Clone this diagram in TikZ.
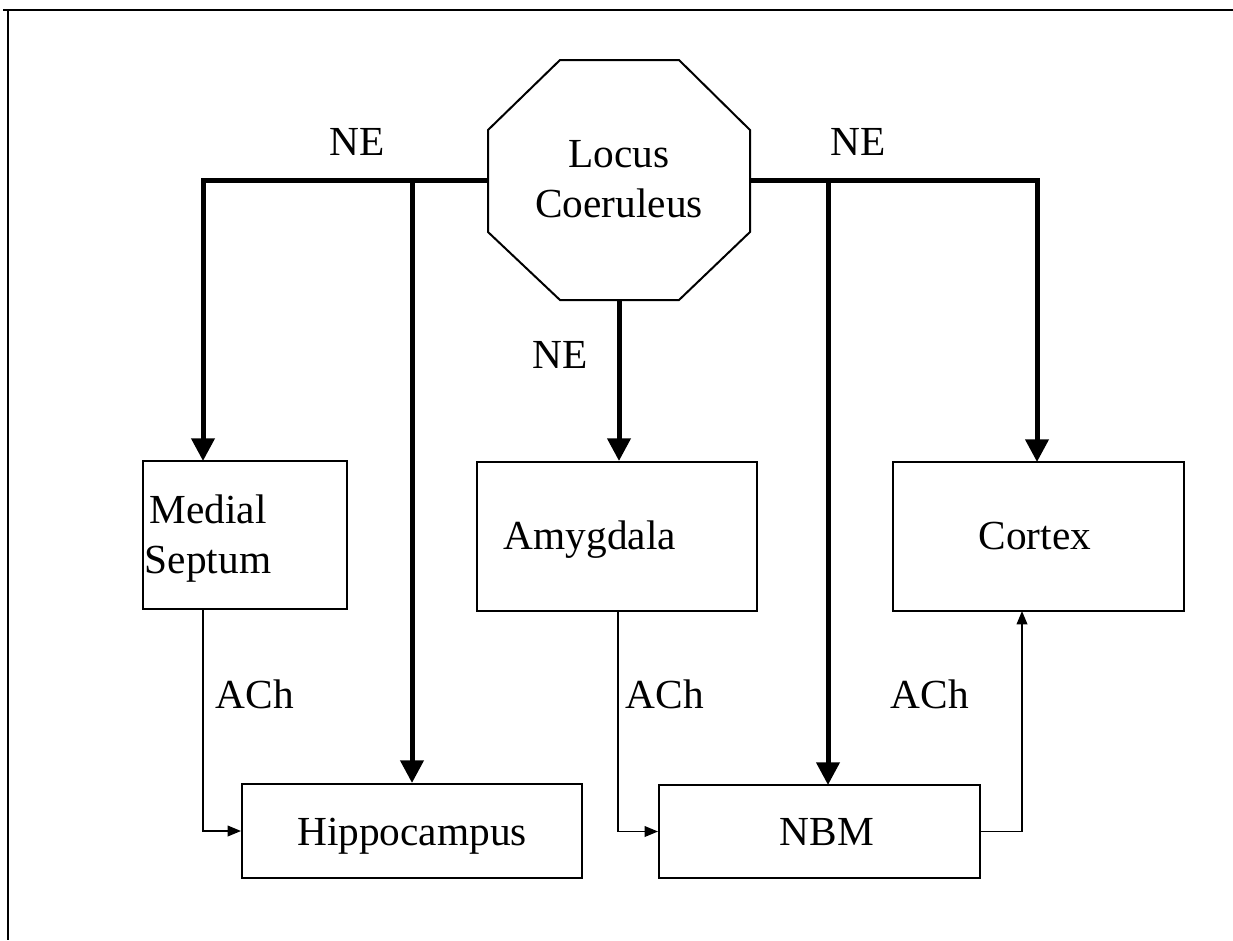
\documentclass[tikz,border=0pt]{standalone}
\usepackage{fontspec}
\setmainfont{Liberation Serif}
\usetikzlibrary{arrows.meta,fit}
\begin{document}
\begin{tikzpicture}[x=0.75pt,y=-0.75pt,
 box/.style={draw, line width=1.5pt, inner sep=0pt},
 lbl/.style={font=\fontsize{31}{37.5}\selectfont, align=center, inner sep=0pt},
 nearrow/.style={line width=3.75pt, -{Triangle[width=17pt,length=17pt]}},
 acharrow/.style={line width=1.1pt, -{Triangle[width=8pt,length=10pt]}}]
\useasboundingbox (0,0) rectangle (1233,940);
% frame
\draw[line width=1.5pt] (3,10) -- (1233,10);
\draw[line width=1.5pt] (8,10) -- (8,940);
% octagon
\draw[line width=1.5pt] (560,60) -- (679,60) -- (750,130) -- (750,232) -- (679,300) -- (560,300) -- (488,232) -- (488,130) -- cycle;
\node[lbl] (lc) at (619,179) {Locus\\Coeruleus};
\coordinate (lcW) at (488,180);
\coordinate (lcE) at (750,180);
\coordinate (lcS) at (619,300);
% boxes
\node[box, fit={(143,461) (347,609)}] (ms) {};
\node[box, fit={(477,462) (757,611)}] (am) {};
\node[box, fit={(893,462) (1184,611)}] (cx) {};
\node[box, fit={(242,784) (582,878)}] (hp) {};
\node[box, fit={(659,785) (980,878)}] (nb) {};
% box texts
\node[lbl] (msT) at (208,539) {Medial\\Septum};
\node[lbl, anchor=base] (amT) at (590,549) {Amygdala};
\node[lbl, anchor=base] (cxT) at (1035,549) {Cortex};
\node[lbl, anchor=base] (hpT) at (412,845) {Hippocampus};
\node[lbl, anchor=base] (nbT) at (827,845) {NBM};
% connector end points
\coordinate (msIn) at (203,461);
\coordinate (msOut) at (203,609);
\coordinate (amOut) at (618,611);
\coordinate (cxIn) at (1037,462);
\coordinate (cxOut) at (1022,611);
\coordinate (nbIn) at (828,785);
% NE connectors
\draw[nearrow] (lcW) -| (msIn);
\draw[nearrow] (lcW -| hp.north) -- (hp.north);
\draw[nearrow] (lcE) -| (cxIn);
\draw[nearrow] (lcE -| nbIn) -- (nbIn);
\draw[nearrow] (lcS) -- (lcS |- am.north);
% ACh connectors
\draw[acharrow] (msOut) |- (hp.west);
\draw[acharrow] (amOut) |- (nb.west);
\draw[acharrow] (nb.east) -| (cxOut);
% labels
\node[lbl, anchor=base] (ne1) at (357,155) {NE};
\node[lbl, anchor=base] (ne2) at (858,155) {NE};
\node[lbl, anchor=base] (ne3) at (560,368) {NE};
\node[lbl, anchor=base] (a1) at (255,708) {ACh};
\node[lbl, anchor=base] (a2) at (665,708) {ACh};
\node[lbl, anchor=base] (a3) at (930,708) {ACh};
\end{tikzpicture}
\end{document}
